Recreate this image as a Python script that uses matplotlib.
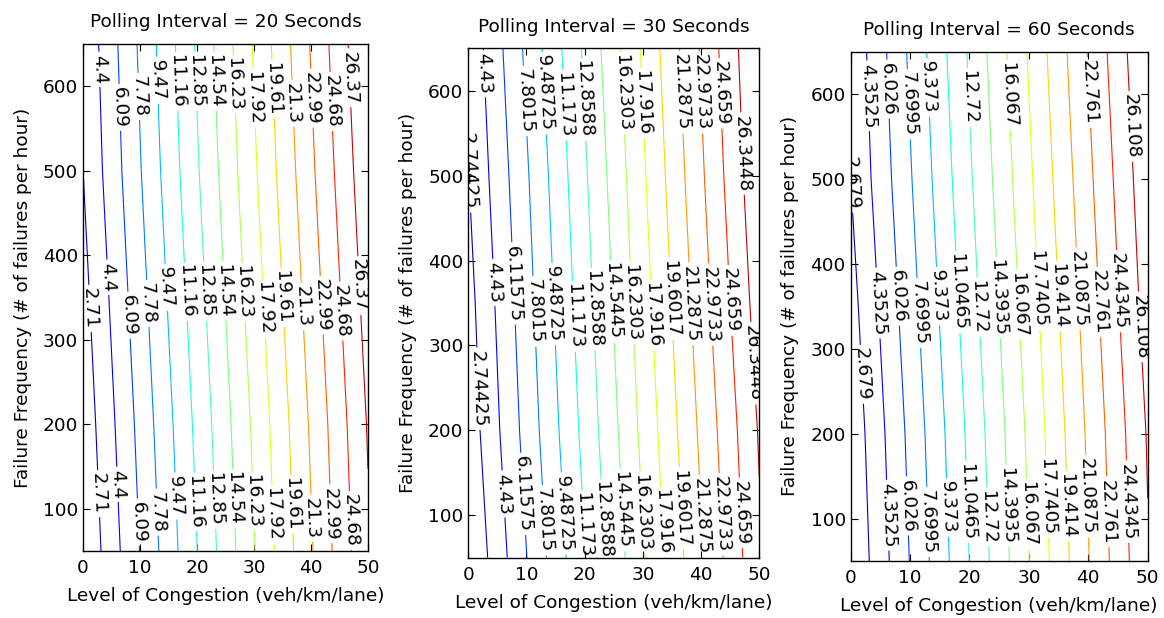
import numpy as np
import matplotlib.pyplot as plt

plt.rcParams['font.family'] = 'DejaVu Sans'
plt.rcParams['font.size'] = 13.3

congestion = [0, 10, 20, 30, 40, 50]
failures = [50, 200, 350, 500, 650]

# z at the grid above (rows = failures, cols = congestion)
z_20 = [[1.13, 6.13, 11.13, 16.13, 21.13, 26.13],
        [1.60, 6.58, 11.56, 16.54, 21.52, 26.50],
        [2.14, 7.12, 12.11, 17.10, 22.08, 27.07],
        [2.705, 7.67, 12.66, 17.65, 22.64, 27.63],
        [3.02, 8.04, 13.06, 18.08, 23.10, 28.12]]
z_30 = [[1.08, 6.08, 11.08, 16.08, 21.08, 26.08],
        [1.74, 6.71, 11.68, 16.65, 21.62, 26.50],
        [2.15, 7.15, 12.15, 17.16, 22.16, 27.16],
        [2.70, 7.59, 12.62, 17.66, 22.69, 27.73],
        [3.14, 8.14, 13.14, 18.14, 23.14, 28.14]]
z_60 = [[1.12, 6.09, 11.06, 16.03, 21.00, 25.97],
        [1.48, 6.45, 11.42, 16.39, 21.36, 26.25],
        [2.04, 7.00, 11.95, 16.91, 21.86, 26.82],
        [2.68, 7.54, 12.48, 17.42, 22.36, 27.30],
        [3.02, 7.98, 12.94, 17.90, 22.86, 27.82]]

levels_20 = [2.71, 4.4, 6.09, 7.78, 9.47, 11.16, 12.85, 14.54, 16.23, 17.92,
             19.61, 21.3, 22.99, 24.68, 26.37]
levels_30 = [2.74425, 4.43, 6.11575, 7.8015, 9.48725, 11.173, 12.8588, 14.5445,
             16.2303, 17.916, 19.6017, 21.2875, 22.9733, 24.659, 26.3448]
levels_60 = [2.679, 4.3525, 6.026, 7.6995, 9.373, 11.0465, 12.72, 14.3935,
             16.067, 17.7405, 19.414, 21.0875, 22.761, 24.4345, 26.108]

titles = ['Polling Interval = 20 Seconds', 'Polling Interval = 30 Seconds',
          'Polling Interval = 60 Seconds']

# where the inline labels sit (failure-frequency value per level, None = no label)
N = None
label_rows_20 = [
    [N, 620, 575, 588, 607, 606, 606, 606, 602, 586, 597, 580, 586, 582, 610],
    [337, 374, 329, 343, 362, 357, 357, 358, 356, 337, 350, 339, 341, 334, 364],
    [118, 129, 84, 96, 115, 108, 111, 112, 109, 93, 105, 89, 94, 86, N]]
label_rows_30 = [
    [505, 620, N, 588, 597, 583, 590, N, 597, 585, N, 598, 598, 597, 526],
    [249, 374, 373, 340, 349, 334, 343, 352, 350, 336, 355, 349, 348, 353, 279],
    [N, 125, 125, 94, 102, 88, 94, 106, 103, 92, 108, 99, 101, 103, N]]
label_rows_60 = [
    [495, 598, 606, 588, 608, N, 596, N, 599, N, N, N, 602, N, 562],
    [270, 354, 362, 342, 362, 367, 349, 360, 352, 371, 362, 371, 355, 368, 326],
    [N, 104, 115, 96, 113, 120, 102, 115, 105, 126, 115, 126, 108, 120, N]]

positions = [[0.0713, 0.1084, 0.2448, 0.8204],
             [0.4023, 0.0976, 0.2500, 0.8243],
             [0.7308, 0.0922, 0.2552, 0.8241]]


def x_on_level(cs, i, y):
    best = None
    for seg in cs.allsegs[i]:
        for (x0, y0), (x1, y1) in zip(seg[:-1], seg[1:]):
            if y0 != y1 and (y0 - y) * (y1 - y) <= 0:
                return x0 + (y - y0) * (x1 - x0) / (y1 - y0)
        for xv, yv in seg:
            if best is None or abs(yv - y) < best[1]:
                best = (xv, abs(yv - y))
    return best[0] if best else 0.0


fig = plt.figure(figsize=(11.64, 6.18), dpi=100)

X, Y = np.meshgrid(congestion, failures)
for pos, z, levels, rows, title in zip(positions, [z_20, z_30, z_60],
                                        [levels_20, levels_30, levels_60],
                                        [label_rows_20, label_rows_30, label_rows_60],
                                        titles):
    ax = fig.add_axes(pos)
    Z = np.array(z)
    cs = ax.contour(X, Y, Z, levels=levels, cmap='jet', vmin=Z.min(), vmax=Z.max(),
                    linewidths=0.8)
    ax.set_xlim(0, 50)
    ax.set_ylim(50, 650)

    spots = []
    for row in rows:
        for i, yl in enumerate(row):
            if yl is not None:
                spots.append((x_on_level(cs, i, yl), yl))
    cs.clabel(manual=spots, inline=True, inline_spacing=3, fmt='%g',
              colors='k', fontsize=13.3)

    ax.set_xticks([0, 10, 20, 30, 40, 50])
    ax.set_yticks([100, 200, 300, 400, 500, 600])
    ax.tick_params(direction='in', top=True, right=True, length=5, width=0.8,
                   labelsize=13.3)
    ax.tick_params(axis='x', pad=6)
    for s in ax.spines.values():
        s.set_linewidth(1.0)
    ax.set_title(title, fontsize=13.3, pad=12)
    ax.set_xlabel('Level of Congestion (veh/km/lane)', fontsize=13.3, labelpad=7)
    ax.set_ylabel('Failure Frequency (# of failures per hour)', fontsize=13.3, labelpad=8)

fig.savefig('out.png', dpi=100)
